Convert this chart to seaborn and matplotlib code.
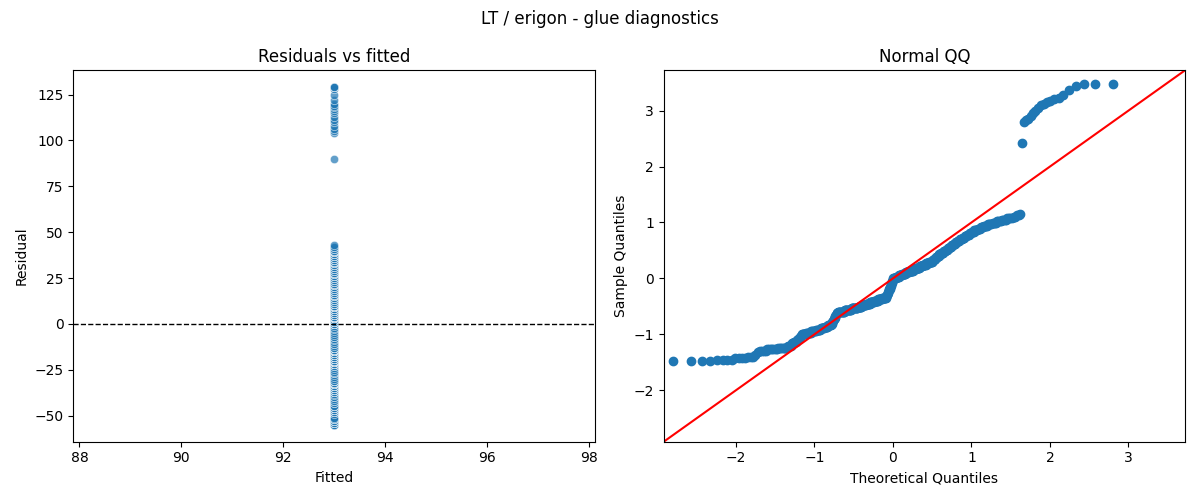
import numpy as np
import pandas as pd
import seaborn as sns
import matplotlib
matplotlib.use("Agg")
import matplotlib.pyplot as plt
from statistics import NormalDist

# glue values and how many runs hit each value
glue_values = [38, 39, 40, 41, 42, 44, 45, 46, 47, 48,
               50, 51, 52, 53, 54, 55, 56, 57, 58, 59,
               60, 61, 62, 63, 64, 65, 66, 67, 68, 69,
               70, 71, 72, 73, 74, 75, 76, 77, 78, 79,
               80, 81, 82, 83, 84, 85, 86, 87, 88, 89,
               90, 91, 92, 93, 94, 95, 96, 97, 98, 99,
               100, 101, 102, 103, 104, 105, 106, 107, 108, 109,
               110, 111, 112, 113, 114, 115, 116, 117, 118, 119,
               120, 121, 122, 123, 124, 125, 126, 127, 128, 129,
               130, 131, 132, 133, 134, 135, 136, 183,
               197, 198, 199, 201, 203, 204, 206, 208, 209, 210,
               211, 212, 213, 215, 218, 221, 222]
glue_counts = [4, 4, 4, 3, 1, 1, 4, 7, 7, 4,
               2, 2, 1, 2, 1, 1, 5, 6, 6, 6,
               5, 5, 5, 1, 1, 1, 2, 1, 1, 1,
               2, 11, 12, 11, 8, 8, 8, 8, 8, 8,
               8, 1, 2, 1, 1, 1, 2, 1, 1, 1,
               1, 1, 1, 6, 6, 6, 7, 7, 8, 6,
               7, 6, 6, 6, 6, 3, 3, 3, 3, 3,
               4, 4, 3, 3, 3, 3, 3, 3, 3, 4,
               3, 3, 3, 3, 3, 4, 3, 4, 4, 4,
               4, 4, 4, 4, 2, 2, 1, 1,
               1, 1, 1, 1, 1, 1, 1, 1, 1, 1,
               1, 1, 1, 1, 1, 1, 3]

y = np.repeat(glue_values, glue_counts).astype(float)
# intercept-only model -> fitted is the mean
fitted = np.full_like(y, y.mean())
resid = y - fitted
df = pd.DataFrame({'fitted': fitted, 'resid': resid})

fig, axes = plt.subplots(1, 2, figsize=(12, 5))

#residuals vs fitted
ax = axes[0]
sns.scatterplot(data=df, x='fitted', y='resid', alpha=0.7, ax=ax)
ax.axhline(0, color='black', linestyle='--', linewidth=1)
ax.set_title('Residuals vs fitted')
ax.set_xlabel('Fitted')
ax.set_ylabel('Residual')

#normal qq of standardized residuals
std_resid = np.sort(resid / resid.std(ddof=1))
n = len(std_resid)
nd = NormalDist()
theo = np.array([nd.inv_cdf(i / (n + 1)) for i in range(1, n + 1)])
qq = pd.DataFrame({'theo': theo, 'sample': std_resid})

ax = axes[1]
ax.set_xmargin(0.02)
sns.scatterplot(data=qq, x='theo', y='sample', s=36, color='C0',
                edgecolor='C0', linewidth=1, ax=ax)
lo = min(ax.get_xlim()[0], ax.get_ylim()[0])
hi = max(ax.get_xlim()[1], ax.get_ylim()[1])
ax.plot([lo, hi], [lo, hi], color='r')
ax.set_xlim(lo, hi)
ax.set_ylim(lo, hi)
ax.set_title('Normal QQ')
ax.set_xlabel('Theoretical Quantiles')
ax.set_ylabel('Sample Quantiles')

fig.suptitle('LT / erigon - glue diagnostics')
fig.tight_layout()
fig.savefig('out.png', dpi=100)
